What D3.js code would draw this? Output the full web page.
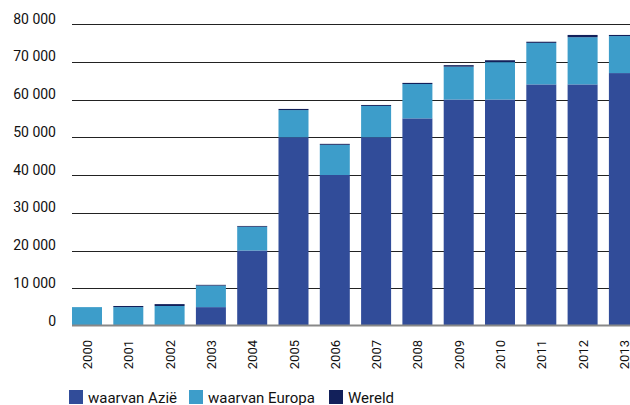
<!DOCTYPE html>
<html><head><meta charset="utf-8">
<script src="https://cdn.jsdelivr.net/npm/d3@7"></script>
<style>body{margin:0;background:#fff}svg{display:block}text{font-family:Roboto,"Liberation Sans",sans-serif}</style>
</head><body>
<svg id="c" width="630" height="405"></svg>
<script>
const years = ["2000","2001","2002","2003","2004","2005","2006","2007","2008","2009","2010","2011","2012","2013"];
const azie   = [0,0,0,5000,20000,50000,40000,50000,55000,60000,60000,64000,64000,67000];
const europa = [5000,5000,5300,5700,6300,7200,8000,8300,9100,8700,9900,11000,12500,9800];
const wereld = [0,300,500,200,200,300,250,250,300,400,500,300,600,300];
const yTicks = [0,10000,20000,30000,40000,50000,60000,70000,80000];
const seriesNames = ["waarvan Azië","waarvan Europa","Wereld"];
const colors = ["#314c99","#3d9dca","#12205a"];

const svg = d3.select("#c");
const y = d3.scaleLinear().domain([0,80000]).range([326,24]);
const x = d3.scaleBand().domain(years).range([72,638.9]).paddingInner(0.2736).paddingOuter(0).align(0);

const fmt = v => v===0 ? "0" : d3.format(",")(v).replace(/,/g," ");

// gridlines
svg.append("g").selectAll("line").data(yTicks.filter(d=>d>0)).join("line")
  .attr("x1",72).attr("x2",630)
  .attr("y1",d=>Math.round(y(d))+0.5).attr("y2",d=>Math.round(y(d))+0.5)
  .attr("stroke","#222").attr("stroke-width",1);

// y labels
svg.append("g").selectAll("text").data(yTicks).join("text")
  .attr("x",56).attr("y",d=>y(d)-4).attr("text-anchor","end")
  .attr("dominant-baseline","middle")
  .attr("font-size",14).attr("fill","#111").text(fmt);

// stacked data
const rows = years.map((yr,i)=>({year:yr, a:azie[i], e:europa[i], w:wereld[i]}));
const stack = d3.stack().keys(["a","e","w"])(rows);
svg.append("g").selectAll("g").data(stack).join("g")
  .attr("fill",(d,i)=>colors[i])
  .selectAll("rect").data(d=>d).join("rect")
  .attr("x",d=>x(d.data.year)).attr("width",x.bandwidth())
  .attr("y",d=>y(d[1])).attr("height",d=>y(d[0])-y(d[1]));

// baseline
svg.append("line").attr("x1",72).attr("x2",630).attr("y1",325.5).attr("y2",325.5)
  .attr("stroke","#888").attr("stroke-width",2);

// x labels rotated
svg.append("g").selectAll("text").data(years).join("text")
  .attr("transform",d=>`translate(${x(d)+x.bandwidth()/2+5},340) rotate(-90)`)
  .attr("text-anchor","end").attr("font-size",13).attr("fill","#111").text(d=>d);

// legend
const lx = [69,189,329];
const lg = svg.append("g").selectAll("g").data(seriesNames).join("g")
  .attr("transform",(d,i)=>`translate(${lx[i]},390)`);
lg.append("rect").attr("width",14).attr("height",14).attr("fill",(d,i)=>colors[i]);
lg.append("text").attr("x",19).attr("y",13).attr("font-size",15).attr("fill","#111").text(d=>d);
</script>
</body></html>
